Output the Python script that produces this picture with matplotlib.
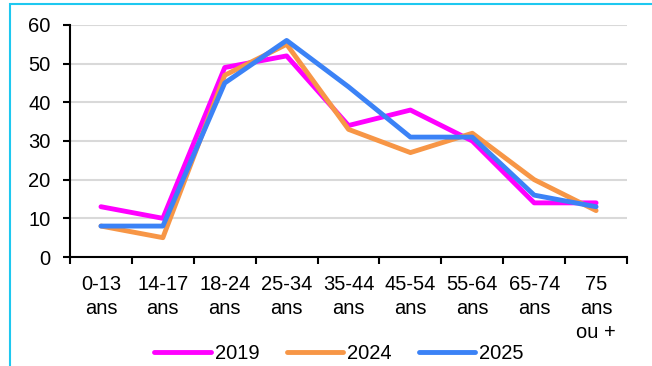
import matplotlib.pyplot as plt
from matplotlib.patches import Rectangle

categories = ["0-13\nans", "14-17\nans", "18-24\nans", "25-34\nans", "35-44\nans",
              "45-54\nans", "55-64\nans", "65-74\nans", "75\nans\nou +"]
y2019 = [13, 10, 49, 52, 34, 38, 30, 14, 14]
y2024 = [8, 5, 47, 55, 33, 27, 32, 20, 12]
y2025 = [8, 8, 45, 56, 44, 31, 31, 16, 13]

plt.rcParams['font.family'] = ['Liberation Sans', 'DejaVu Sans']

fig = plt.figure(figsize=(6.52, 3.66), dpi=100)
ax = fig.add_axes([0.1074, 0.2978, 0.8543, 0.634])

x = range(len(categories))
ax.plot(x, y2019, color='#ff00ff', lw=3.5, label='2019', solid_capstyle='round')
ax.plot(x, y2024, color='#f79646', lw=3.5, label='2024', solid_capstyle='round')
ax.plot(x, y2025, color='#3b82f6', lw=3.5, label='2025', solid_capstyle='round')

ax.set_xlim(-0.5, len(categories) - 0.5)
ax.set_ylim(0, 60)
ax.set_yticks(range(0, 61, 10))
ax.set_xticks([i - 0.5 for i in range(len(categories) + 1)])
ax.set_xticklabels([])
ax.set_xticks(list(x), minor=True)
ax.set_xticklabels(categories, minor=True, fontsize=14.5, linespacing=1.33)
ax.tick_params(axis='x', which='minor', length=0, pad=13)
ax.tick_params(axis='x', which='major', length=5, width=1.5, direction='out')
ax.tick_params(axis='y', length=5, width=1.5, direction='out', labelsize=14.5, pad=9)

ax.grid(axis='y', color='#d9d9d9', lw=1.5)
ax.set_axisbelow(True)
for s in ['top', 'right']:
    ax.spines[s].set_visible(False)
for s in ['left', 'bottom']:
    ax.spines[s].set_linewidth(1.5)
    ax.spines[s].set_color('black')

fig.legend(loc='center', bbox_to_anchor=(0.52, 0.035), ncol=3, frameon=False,
           fontsize=14.5, handlelength=2.8, handletextpad=0.2, columnspacing=1.35)

fig.patches.append(Rectangle((10 / 652, -0.1), 1.0, 1.1 - 3.5 / 366, transform=fig.transFigure,
                             fill=False, edgecolor='#1ec8f0', lw=1.5))

fig.savefig('out.png', dpi=100)
